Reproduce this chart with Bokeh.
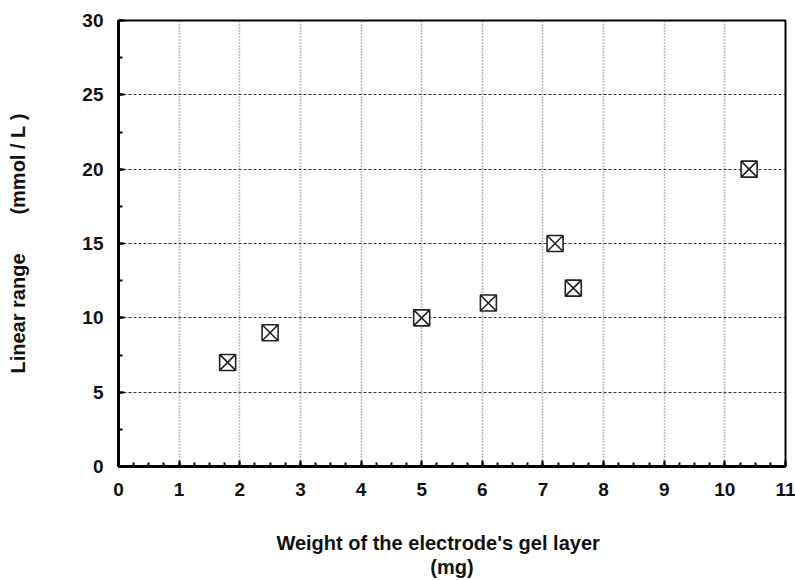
from bokeh.plotting import figure
from bokeh.embed import file_html
from bokeh.resources import INLINE
from bokeh.models import ColumnDataSource, FixedTicker, Range1d

weight_mg = [1.8, 2.5, 5.0, 6.1, 7.2, 7.5, 10.4]
linear_range = [7, 9, 10, 11, 15, 12, 20]
x_ticks = list(range(0, 12))
y_ticks = [0, 5, 10, 15, 20, 25, 30]

src = ColumnDataSource(dict(x=weight_mg, y=linear_range))

p = figure(width=795, height=580, output_backend="svg", toolbar_location=None,
           x_range=Range1d(0, 11), y_range=Range1d(0, 30),
           min_border_left=118, min_border_right=10, min_border_top=20, min_border_bottom=114)
p.frame_width = 667
p.frame_height = 446
p.background_fill_color = "white"
p.border_fill_color = "white"
p.outline_line_color = "black"
p.outline_line_width = 2

p.scatter("x", "y", source=src, marker="square_x", size=16, fill_color="white",
          line_color="#222222", line_width=1.6)

p.xaxis.ticker = FixedTicker(ticks=x_ticks, minor_ticks=[i * 0.25 for i in range(45)])
p.yaxis.ticker = FixedTicker(ticks=y_ticks, minor_ticks=[i * 2.5 for i in range(13)])

for ax in (p.xaxis, p.yaxis):
    ax.axis_line_color = "black"
    ax.axis_line_width = 3
    ax.major_tick_in = 6
    ax.major_tick_out = 0
    ax.minor_tick_in = 4
    ax.minor_tick_out = 0
    ax.major_tick_line_color = "black"
    ax.minor_tick_line_color = "black"
    ax.major_tick_line_width = 2
    ax.minor_tick_line_width = 2
    ax.major_label_text_font = "Liberation Sans"
    ax.major_label_text_font_style = "bold"
    ax.major_label_text_font_size = "19px"
    ax.major_label_text_color = "#111111"
    ax.axis_label_text_font = "Liberation Sans"
    ax.axis_label_text_font_style = "bold"
    ax.axis_label_text_color = "#111111"

p.xaxis.axis_label_text_font_size = "20px"
p.yaxis.axis_label_text_font_size = "20px"
p.xaxis.major_label_standoff = 16
p.yaxis.major_label_standoff = 15
p.xaxis.axis_label = "Weight of the electrode's gel layer" + "\u00a0" * 5 + "\n(mg)"
p.xaxis.axis_label_text_line_height = 1.1
p.xaxis.axis_label_standoff = 33
p.yaxis.axis_label = "Linear range" + "\u00a0" * 7 + "(mmol / L\u00a0)"
p.yaxis.axis_label_standoff = 50

p.xgrid.ticker = FixedTicker(ticks=x_ticks)
p.ygrid.ticker = FixedTicker(ticks=y_ticks)
p.xgrid.grid_line_color = "#777777"
p.xgrid.grid_line_dash = "1 2"
p.xgrid.grid_line_width = 1.6
p.ygrid.grid_line_color = "#333333"
p.ygrid.grid_line_dash = "3 2"
p.ygrid.grid_line_width = 1.2

open("out.html", "w").write(file_html(p, INLINE))
